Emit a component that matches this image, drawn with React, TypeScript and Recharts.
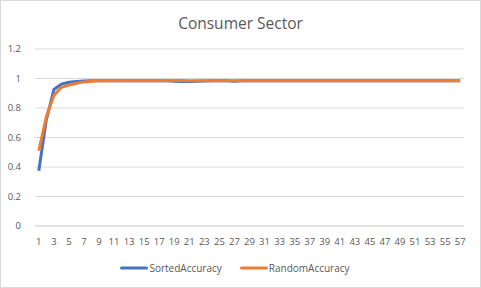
import React from 'react';
import { LineChart, Line, XAxis, YAxis, CartesianGrid, Legend } from 'recharts';

const categories: number[] = Array.from({ length: 57 }, (_, i) => i + 1);

const sortedAccuracy: number[] = [
  0.375, 0.72, 0.925, 0.962, 0.975, 0.98, 0.983, 0.985, 0.985, 0.985,
  0.985, 0.985, 0.985, 0.985, 0.985, 0.985, 0.985, 0.985, 0.981, 0.98,
  0.98, 0.981, 0.983, 0.985, 0.985, 0.985, 0.981, 0.985, 0.985, 0.985,
  0.985, 0.985, 0.985, 0.985, 0.985, 0.985, 0.985, 0.985, 0.985, 0.985,
  0.985, 0.985, 0.985, 0.985, 0.985, 0.985, 0.985, 0.985, 0.985, 0.985,
  0.985, 0.985, 0.985, 0.985, 0.985, 0.985, 0.985,
];

const randomAccuracy: number[] = [
  0.51, 0.74, 0.885, 0.94, 0.955, 0.968, 0.977, 0.982, 0.985, 0.985,
  0.985, 0.985, 0.985, 0.985, 0.985, 0.985, 0.985, 0.985, 0.987, 0.987,
  0.985, 0.985, 0.985, 0.985, 0.985, 0.985, 0.985, 0.985, 0.985, 0.985,
  0.985, 0.985, 0.985, 0.985, 0.985, 0.985, 0.985, 0.985, 0.985, 0.985,
  0.985, 0.985, 0.985, 0.985, 0.985, 0.985, 0.985, 0.985, 0.985, 0.985,
  0.985, 0.985, 0.985, 0.985, 0.985, 0.985, 0.985,
];

const yTicks: number[] = [0, 0.2, 0.4, 0.6, 0.8, 1, 1.2];
const seriesOrder: string[] = ['SortedAccuracy', 'RandomAccuracy'];

const data = categories.map((c, i) => ({
  x: c,
  SortedAccuracy: sortedAccuracy[i],
  RandomAccuracy: randomAccuracy[i],
}));

const FONT = "'Open Sans', 'Noto Sans', sans-serif";
const TEXT = '#595959';

const renderLegend = (props: any) => {
  const payload = [...(props.payload || [])].sort(
    (a: any, b: any) => seriesOrder.indexOf(a.value) - seriesOrder.indexOf(b.value)
  );
  return (
    <div style={{ display: 'flex', justifyContent: 'center', alignItems: 'center', fontFamily: FONT, fontSize: 10, color: TEXT, paddingLeft: 6, paddingTop: 3 }}>
      {payload.map((p: any, i: number) => (
        <div key={i} style={{ display: 'flex', alignItems: 'center', marginRight: i === 0 ? 18 : 0 }}>
          <svg width={28} height={6} style={{ marginRight: 1 }}>
            <line x1={1.5} y1={3} x2={26.5} y2={3} stroke={p.color} strokeWidth={3} strokeLinecap="round" />
          </svg>
          <span>{p.value}</span>
        </div>
      ))}
    </div>
  );
};

export default function App() {
  return (
    <div style={{ position: 'fixed', left: 0, top: 0, width: 481, height: 288, background: '#fff' }}>
      <div style={{ position: 'absolute', left: 0, top: 0, width: 479, height: 286, border: '1px solid #d9d9d9' }} />
      <div style={{ position: 'absolute', left: 0, top: 12, width: 481, textAlign: 'center', fontFamily: FONT, fontSize: 15.5, color: TEXT }}>
        Consumer Sector
      </div>
      <LineChart width={481} height={288} data={data} margin={{ top: 49, right: 17, left: 0, bottom: 10 }}>
        <CartesianGrid vertical={false} stroke="#d9d9d9" strokeWidth={1} />
        <XAxis
          dataKey="x"
          interval={1}
          tickLine={false}
          axisLine={{ stroke: '#d9d9d9' }}
          tick={{ fill: TEXT, fontSize: 9.5, fontFamily: FONT }}
          height={32}
          tickMargin={6}
          padding={{ left: 3.8, right: 3.8 }}
        />
        <YAxis
          domain={[0, 1.2]}
          ticks={yTicks}
          width={35}
          axisLine={false}
          tickLine={false}
          tick={{ fill: TEXT, fontSize: 9.5, fontFamily: FONT }}
          tickMargin={8}
        />
        <Legend verticalAlign="bottom" height={20} content={renderLegend} />
        <Line dataKey="SortedAccuracy" stroke="#4472C4" strokeWidth={3} dot={false} isAnimationActive={false} strokeLinejoin="round" />
        <Line dataKey="RandomAccuracy" stroke="#ED7D31" strokeWidth={3} dot={false} isAnimationActive={false} strokeLinejoin="round" />
      </LineChart>
    </div>
  );
}
